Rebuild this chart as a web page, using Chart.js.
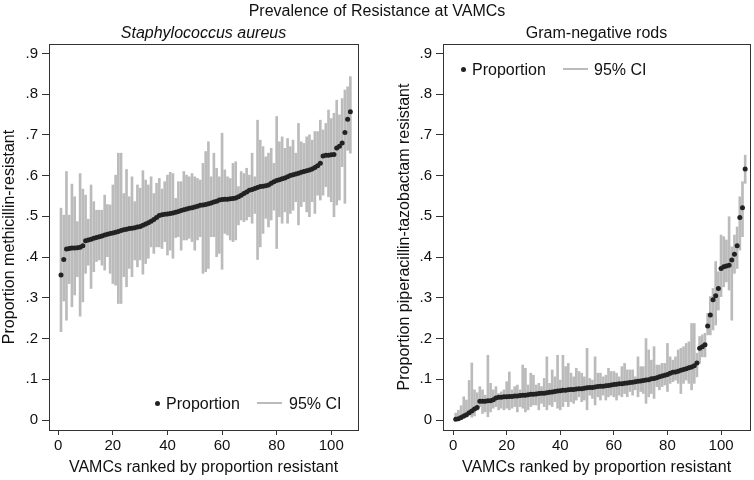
<!DOCTYPE html>
<html>
<head>
<meta charset="utf-8">
<script src="https://cdn.jsdelivr.net/npm/chart.js@4.4.1/dist/chart.umd.min.js"></script>
<style>
  body { margin: 0; background: #fff; }
  #wrap { position: relative; width: 754px; height: 480px; font-family: "Liberation Sans", Arial, sans-serif; color: #111; }
  canvas { position: absolute; top: 0; }
  .txt { position: absolute; font-size: 16px; line-height: 19px; white-space: nowrap; }
  .dot { position: absolute; width: 5px; height: 5px; border-radius: 50%; background: #222; }
  .ci { position: absolute; width: 25px; height: 2px; background: #bbbbbb; }
</style>
</head>
<body>
<div id="wrap">
  <canvas id="leftChart" width="377" height="480" style="left:0"></canvas>
  <canvas id="rightChart" width="368" height="480" style="left:386px"></canvas>

  <div class="txt" style="left:0;top:1px;width:754px;text-align:center">Prevalence of Resistance at VAMCs</div>
  <div class="txt" style="left:49px;top:23px;width:309px;text-align:center;font-style:italic">Staphylococcus aureus</div>
  <div class="txt" style="left:443px;top:23px;width:307px;text-align:center">Gram-negative rods</div>

  <!-- legends sit inside the plot areas -->
  <div class="dot" style="left:155px;top:401px"></div>
  <div class="txt" style="left:166px;top:394px">Proportion</div>
  <div class="ci" style="left:257px;top:402px"></div>
  <div class="txt" style="left:289px;top:394px">95% CI</div>

  <div class="dot" style="left:461px;top:67px"></div>
  <div class="txt" style="left:472px;top:60px">Proportion</div>
  <div class="ci" style="left:563px;top:68px"></div>
  <div class="txt" style="left:594px;top:60px">95% CI</div>
</div>

<script>
// tick values
const yTicks = [0, 0.1, 0.2, 0.3, 0.4, 0.5, 0.6, 0.7, 0.8, 0.9];
const xTicks = [0, 20, 40, 60, 80, 100];

// Staphylococcus aureus: proportion methicillin-resistant, ranked
const mrsaProp = [
  .356, .394, .420, .421, .422, .422, .423, .424, .428, .440,
  .442, .444, .446, .448, .450, .452, .454, .456, .458, .459,
  .461, .463, .465, .467, .468, .470, .471, .472, .474, .475,
  .478, .481, .484, .488, .492, .497, .502, .504, .505, .506,
  .507, .508, .510, .512, .514, .516, .518, .520, .521, .523,
  .525, .527, .528, .529, .531, .533, .535, .537, .540, .541,
  .542, .542, .543, .544, .545, .548, .552, .556, .560, .564,
  .566, .568, .571, .573, .574, .575, .577, .581, .585, .588,
  .590, .592, .594, .597, .600, .602, .604, .606, .608, .610,
  .612, .614, .616, .620, .624, .630, .648, .650, .650, .651,
  .652, .668, .672, .680, .706, .738, .757
];
const mrsaLow = [
  .217, .292, .245, .335, .278, .307, .352, .255, .290, .360,
  .380, .323, .364, .389, .393, .380, .368, .401, .360, .335,
  .331, .286, .286, .352, .327, .372, .352, .393, .376, .393,
  .358, .384, .397, .425, .409, .425, .425, .421, .438, .405,
  .417, .397, .448, .450, .417, .442, .442, .446, .438, .417,
  .442, .450, .360, .364, .372, .450, .450, .401, .409, .370,
  .458, .454, .442, .438, .442, .479, .491, .487, .491, .499,
  .483, .507, .394, .425, .458, .495, .474, .491, .515, .421,
  .499, .483, .511, .483, .507, .515, .536, .479, .524, .536,
  .511, .499, .536, .507, .552, .540, .552, .573, .548, .536,
  .499, .528, .540, .622, .532, .662, .655
];
const mrsaHigh = [
  .520, .503, .610, .503, .579, .548, .487, .605, .567, .552,
  .493, .577, .536, .515, .515, .515, .552, .529, .528, .577,
  .601, .655, .655, .556, .615, .548, .597, .536, .577, .569,
  .612, .589, .577, .597, .556, .581, .593, .567, .585, .601,
  .608, .605, .544, .585, .585, .610, .601, .597, .605, .597,
  .593, .589, .630, .659, .683, .597, .655, .618, .597, .704,
  .614, .597, .593, .630, .634, .573, .610, .605, .618, .601,
  .655, .597, .736, .687, .671, .646, .655, .667, .630, .745,
  .683, .695, .667, .691, .671, .687, .655, .728, .683, .679,
  .695, .700, .687, .708, .708, .736, .712, .728, .761, .740,
  .753, .785, .749, .789, .810, .818, .843
];

// Gram-negative rods: proportion piperacillin-tazobactam resistant, ranked
const gnrProp = [
  .002, .003, .006, .010, .013, .018, .022, .027, .031, .046,
  .046, .046, .047, .047, .050, .054, .056, .056, .057, .057,
  .058, .058, .059, .059, .060, .061, .061, .062, .063, .063,
  .064, .065, .066, .066, .067, .068, .069, .070, .071, .072,
  .073, .073, .074, .075, .075, .076, .077, .077, .078, .079,
  .080, .080, .081, .082, .083, .083, .084, .085, .086, .087,
  .088, .089, .089, .090, .091, .092, .093, .094, .095, .096,
  .097, .098, .099, .101, .102, .104, .106, .108, .110, .112,
  .115, .117, .118, .120, .122, .124, .126, .128, .130, .133,
  .140, .176, .180, .185, .231, .258, .295, .305, .323, .372,
  .376, .378, .380, .393, .407, .428, .497, .521, .616
];
const gnrLow = [
  0, 0, .001, .004, .007, .012, .007, .010, .024, .033,
  .016, .020, .008, .020, .029, .033, .025, .029, .025, .029,
  .025, .029, .033, .020, .033, .029, .020, .025, .033, .037,
  .037, .025, .041, .033, .025, .037, .033, .045, .029, .025,
  .033, .045, .033, .045, .041, .049, .057, .045, .049, .025,
  .061, .053, .037, .057, .049, .061, .049, .057, .061, .057,
  .049, .061, .057, .065, .057, .070, .061, .074, .057, .070,
  .065, .041, .057, .065, .053, .082, .074, .082, .086, .070,
  .090, .094, .098, .090, .065, .090, .098, .090, .074, .090,
  .106, .139, .155, .155, .209, .209, .221, .233, .270, .303,
  .327, .339, .319, .245, .360, .372, .417, .450, .581
];
const gnrHigh = [
  .017, .024, .035, .057, .049, .097, .140, .074, .067, .082,
  .074, .061, .159, .090, .074, .082, .065, .069, .074, .094,
  .118, .074, .082, .086, .074, .135, .127, .086, .115, .110,
  .086, .090, .082, .102, .155, .090, .123, .106, .159, .098,
  .159, .131, .139, .115, .106, .127, .119, .115, .106, .176,
  .102, .098, .155, .115, .115, .106, .110, .127, .119, .119,
  .115, .106, .131, .139, .123, .123, .123, .106, .155, .131,
  .131, .200, .172, .147, .180, .135, .135, .139, .139, .188,
  .155, .147, .155, .172, .176, .180, .188, .192, .237, .237,
  .164, .205, .209, .213, .262, .303, .323, .389, .364, .454,
  .450, .442, .499, .425, .454, .474, .548, .585, .650
];

// draws the box round the plot region
const framePlugin = {
    id: 'frame',
    afterDraw(chart) {
        const { ctx, chartArea: a } = chart;
        ctx.save();
        ctx.strokeStyle = '#333';
        ctx.lineWidth = 1;
        ctx.strokeRect(Math.round(a.left) + 0.5, Math.round(a.top) + 0.5,
            Math.round(a.right - a.left), Math.round(a.bottom - a.top));
        ctx.restore();
    }
};

function makePanel(canvasId, prop, low, high, opts) {
    const points = prop.map((p, i) => ({ x: i + 1, y: p }));
    const bars = prop.map((p, i) => ({ x: i + 1, y: [low[i], high[i]] }));

    return new Chart(document.getElementById(canvasId), {
        type: 'scatter',
        data: {
            datasets: [
                {
                    type: 'scatter',
                    label: 'Proportion',
                    data: points,
                    pointRadius: 2.5,
                    pointBackgroundColor: '#222',
                    pointBorderWidth: 0,
                    order: 0
                },
                {
                    type: 'bar',
                    label: '95% CI',
                    data: bars,
                    backgroundColor: '#bbbbbb',
                    borderWidth: 0,
                    barThickness: 2,
                    order: 1
                }
            ]
        },
        options: {
            responsive: false,
            animation: false,
            layout: { padding: { top: 44, right: opts.padRight, bottom: 0, left: 0 } },
            plugins: { legend: { display: false }, tooltip: { enabled: false } },
            scales: {
                x: {
                    type: 'linear',
                    offset: false,   // bar datasets switch this on, which squeezes the range
                    min: opts.xMin,
                    max: opts.xMax,
                    afterBuildTicks: (s) => { s.ticks = xTicks.map(v => ({ value: v })); },
                    afterFit: (s) => { s.height = 50; s.paddingLeft = 0; s.paddingRight = 0; },
                    grid: { drawOnChartArea: false, offset: false, tickLength: 5, color: '#333' },
                    border: { display: true, color: '#333' },
                    ticks: { color: '#111', font: { size: 15, family: 'Liberation Sans' }, padding: 2, maxRotation: 0 },
                    title: {
                        display: true,
                        text: 'VAMCs ranked by proportion resistant',
                        color: '#111',
                        font: { size: 16, family: 'Liberation Sans' },
                        padding: { top: 0, bottom: 3 }
                    }
                },
                y: {
                    min: -0.0245,
                    max: 0.923,
                    afterBuildTicks: (s) => { s.ticks = yTicks.map(v => ({ value: v })); },
                    afterFit: (s) => { s.width = opts.yWidth; s.paddingTop = 0; s.paddingBottom = 0; },
                    grid: { drawOnChartArea: false, tickLength: 7, color: '#333' },
                    border: { display: true, color: '#333' },
                    ticks: {
                        color: '#111',
                        font: { size: 15, family: 'Liberation Sans' },
                        padding: 4,
                        callback: (v) => v === 0 ? '0' : '.' + Math.round(v * 10)
                    },
                    title: {
                        display: true,
                        text: opts.yTitle,
                        color: '#111',
                        font: { size: 16, family: 'Liberation Sans' },
                        padding: { top: opts.yTitlePad, bottom: 0 }
                    }
                }
            }
        },
        plugins: [framePlugin]
    });
}

makePanel('leftChart', mrsaProp, mrsaLow, mrsaHigh, {
    xMin: -3.4, xMax: 109.8, yWidth: 49, padRight: 19, yTitlePad: 0,
    yTitle: 'Proportion methicillin-resistant'
});

makePanel('rightChart', gnrProp, gnrLow, gnrHigh, {
    xMin: -3.75, xMax: 110.8, yWidth: 57, padRight: 4, yTitlePad: 9,
    yTitle: 'Proportion piperacillin-tazobactam resistant'
});
</script>
</body>
</html>
